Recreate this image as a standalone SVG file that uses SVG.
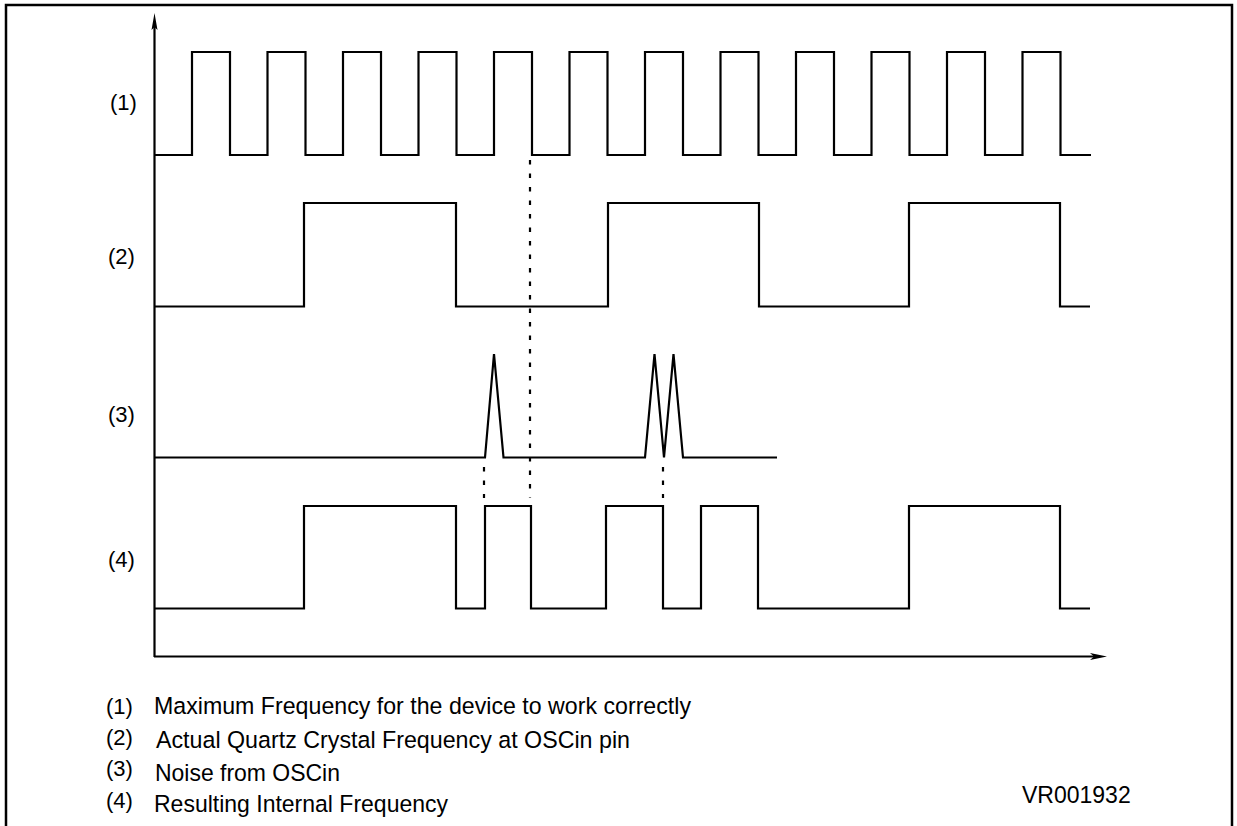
<svg xmlns="http://www.w3.org/2000/svg" width="1237" height="826" viewBox="0 0 1237 826">
<style>
.bg{fill:#fff}
.frame{fill:none;stroke:#000;stroke-width:2.5}
.wave{fill:none;stroke:#000;stroke-width:2.2;stroke-linejoin:miter;stroke-linecap:butt}
.axis{fill:none;stroke:#000;stroke-width:2.2}
.head{fill:#000;stroke:none}
.dot{fill:none;stroke:#000;stroke-width:2.2;stroke-dasharray:4.5 9}
.lbl{font-family:"Liberation Sans",Arial,sans-serif;font-size:22px;fill:#000}
.num{font-family:"Liberation Sans",Arial,sans-serif;font-size:22px;fill:#000}
.leg{font-family:"Liberation Sans",Arial,sans-serif;font-size:24.5px;fill:#000}
.code{font-family:"Liberation Sans",Arial,sans-serif;font-size:23px;fill:#000}
</style>
<rect class="bg" x="0" y="0" width="1237" height="826"/>
<path class="frame" d="M6,826 V5 H1232 V826"/>
<g id="axes">
<line class="axis" x1="154.5" y1="26" x2="154.5" y2="657"/>
<polygon class="head" points="154.5,13 157.5,30 154.5,27 151.5,30"/>
<line class="axis" x1="154" y1="656.5" x2="1094" y2="656.5"/>
<polygon class="head" points="1107,656.5 1090,653 1094,656.5 1090,660"/>
</g>
<g id="wave1">
<path class="wave" d="M154,155 H192 V52 H230 V155 H267.5 V52 H305.5 V155 H343 V52 H381 V155 H418.5 V52 H456.5 V155 H494 V52 H532 V155 H569.5 V52 H607.5 V155 H645 V52 H683 V155 H720.5 V52 H758.5 V155 H796 V52 H834 V155 H871.5 V52 H909.5 V155 H947 V52 H985 V155 H1022.5 V52 H1060.5 V155 H1091"/>
</g>
<g id="wave2">
<path class="wave" d="M154,306.5 H304 V203 H456 V306.5 H608 V203 H759 V306.5 H909 V203 H1060 V306.5 H1090"/>
</g>
<g id="wave3">
<path class="wave" d="M154,457.5 H485 L494,354 L503.5,457.5 H645 L654.5,354 L664,457.5 L673.5,354 L683,457.5 H777"/>
</g>
<g id="wave4">
<path class="wave" d="M154,608.5 H304 V506 H456 V608.5 H485 V506 H531 V608.5 H606 V506 H663 V608.5 H701 V506 H758 V608.5 H909 V506 H1060 V608.5 H1090"/>
</g>
<g id="connectors">
<line class="dot" x1="530" y1="160" x2="530" y2="498"/>
<line class="dot" x1="484" y1="467" x2="484" y2="498"/>
<line class="dot" x1="663" y1="467" x2="663" y2="498"/>
</g>
<g id="labels">
<text class="lbl" x="110" y="110">(1)</text>
<text class="lbl" x="108" y="264">(2)</text>
<text class="lbl" x="108" y="422">(3)</text>
<text class="lbl" x="108" y="567">(4)</text>
</g>
<g id="legend">
<text class="num" x="106" y="714">(1)</text>
<text class="leg" x="154" y="714" textLength="537" lengthAdjust="spacingAndGlyphs">Maximum Frequency for the device to work correctly</text>
<text class="num" x="106" y="745">(2)</text>
<text class="leg" x="156" y="748" textLength="474" lengthAdjust="spacingAndGlyphs">Actual Quartz Crystal Frequency at OSCin pin</text>
<text class="num" x="106" y="776">(3)</text>
<text class="leg" x="155" y="781" textLength="185" lengthAdjust="spacingAndGlyphs">Noise from OSCin</text>
<text class="num" x="106" y="808">(4)</text>
<text class="leg" x="154" y="812" textLength="294" lengthAdjust="spacingAndGlyphs">Resulting Internal Frequency</text>
<text class="code" x="1022" y="803">VR001932</text>
</g>
</svg>
